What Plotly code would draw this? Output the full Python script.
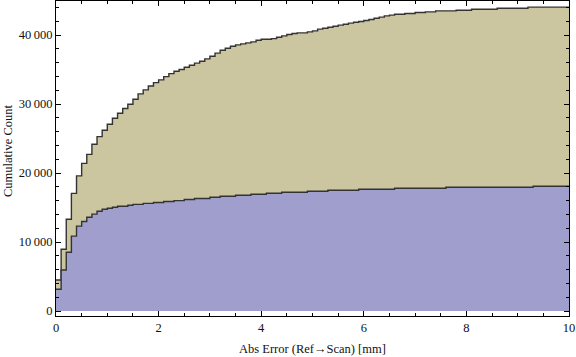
import plotly.graph_objects as go

# Histogram bins (Abs Error, mm): 100 bins of width 0.1 from 0 to 10
bin_width = 0.1
bin_count = 100
bin_left_edges = [round(i * bin_width, 2) for i in range(bin_count)]

# Cumulative counts, series 1 (tan, larger)
cum_tan = [
    4500, 8950, 13300, 17050, 19580, 21400, 22700, 24170, 25270, 26200,
    27070, 27940, 28670, 29340, 29970, 30700, 31470, 32050, 32620, 33100,
    33500, 33970, 34400, 34750, 35000, 35330, 35620, 35920, 36200, 36540,
    36930, 37370, 37800, 38090, 38380, 38570, 38720, 38860, 39000, 39250,
    39390, 39390, 39480, 39680, 39875, 40070, 40210, 40310, 40310, 40455,
    40600, 40850, 40990, 41135, 41280, 41430, 41570, 41720, 41860, 41950,
    42100, 42240, 42440, 42590, 42780, 42880, 43020, 43020, 43110, 43110,
    43260, 43260, 43355, 43355, 43500, 43500, 43500, 43500, 43600, 43600,
    43600, 43745, 43745, 43745, 43745, 43745, 43890, 43890, 43890, 43890,
    43890, 43890, 44040, 44040, 44040, 44040, 44040, 44040, 44040, 44040,
]

# Cumulative counts, series 2 (blue, smaller)
cum_blue = [
    3150, 5950, 8520, 10850, 12300, 12980, 13580, 14040, 14455, 14745,
    14890, 15040, 15180, 15180, 15320, 15450, 15450, 15600, 15600, 15720,
    15720, 15860, 15860, 16000, 16000, 16150, 16150, 16300, 16300, 16300,
    16490, 16490, 16630, 16630, 16630, 16780, 16780, 16780, 16920, 16920,
    16920, 17070, 17070, 17070, 17210, 17210, 17210, 17210, 17210, 17360,
    17360, 17360, 17360, 17500, 17500, 17500, 17500, 17500, 17500, 17650,
    17650, 17650, 17650, 17650, 17650, 17650, 17790, 17790, 17790, 17790,
    17790, 17790, 17790, 17790, 17790, 17790, 17940, 17940, 17940, 17940,
    17940, 17940, 17940, 17940, 17940, 17940, 17940, 17940, 17940, 17940,
    17940, 17940, 17940, 18080, 18080, 18080, 18080, 18080, 18080, 18080,
]

x_ticks = [0, 2, 4, 6, 8, 10]
y_ticks = [0, 10000, 20000, 30000, 40000]
y_tick_labels = ["0", "10\u2009000", "20\u2009000", "30\u2009000", "40\u2009000"]

x_title = "Abs Error (Ref\u2192Scan) [mm]"
y_title = "Cumulative Count"

# step outline: left edges plus the closing right edge
xs = bin_left_edges + [bin_count * bin_width]

fig = go.Figure()
for vals, fillc in [(cum_tan, "#CBC6A0"), (cum_blue, "#A09ECC")]:
    ys = vals + [vals[-1]]
    fig.add_trace(go.Scatter(
        x=xs, y=ys, mode="lines", line_shape="hv",
        line=dict(color="#333333", width=1.4),
        fill="tozeroy", fillcolor=fillc, hoverinfo="skip",
        showlegend=False,
    ))

font = dict(family="Liberation Serif, Times New Roman, serif", size=12.5, color="#111111")

fig.update_layout(
    width=576, height=357,
    margin=dict(l=56, r=7, t=1, b=41, autoexpand=False),
    paper_bgcolor="white", plot_bgcolor="white",
    font=font,
    showlegend=False,
)
fig.update_xaxes(
    range=[0, 10], tickvals=x_ticks, ticktext=[str(v) for v in x_ticks],
    showgrid=False, zeroline=False, automargin=False,
    showline=True, linecolor="black", linewidth=1, mirror="allticks",
    ticks="inside", ticklen=5, tickcolor="black", tickwidth=1,
    minor=dict(dtick=0.5, tick0=0, ticks="inside", ticklen=3, tickcolor="black", showgrid=False),
    tickfont=font,
)
fig.update_yaxes(
    range=[-725, 44930], tickvals=y_ticks, ticktext=y_tick_labels,
    showgrid=False, zeroline=False, automargin=False,
    showline=True, linecolor="black", linewidth=1, mirror="allticks",
    ticks="inside", ticklen=5, tickcolor="black", tickwidth=1,
    minor=dict(dtick=2000, tick0=0, ticks="inside", ticklen=3, tickcolor="black", showgrid=False),
    tickfont=font,
)
fig.add_annotation(text=x_title, xref="paper", yref="paper", x=0.5, y=-0.105,
                   xanchor="center", yanchor="middle", showarrow=False, font=font)
fig.add_annotation(text=y_title, xref="paper", yref="paper", x=-0.0936, y=0.527,
                   xanchor="center", yanchor="middle", textangle=-90, showarrow=False, font=font)

fig.write_html(
    "out.html",
    config={"displayModeBar": False, "staticPlot": True},
    post_script="document.body.style.margin='0';document.body.style.padding='0';",
)
